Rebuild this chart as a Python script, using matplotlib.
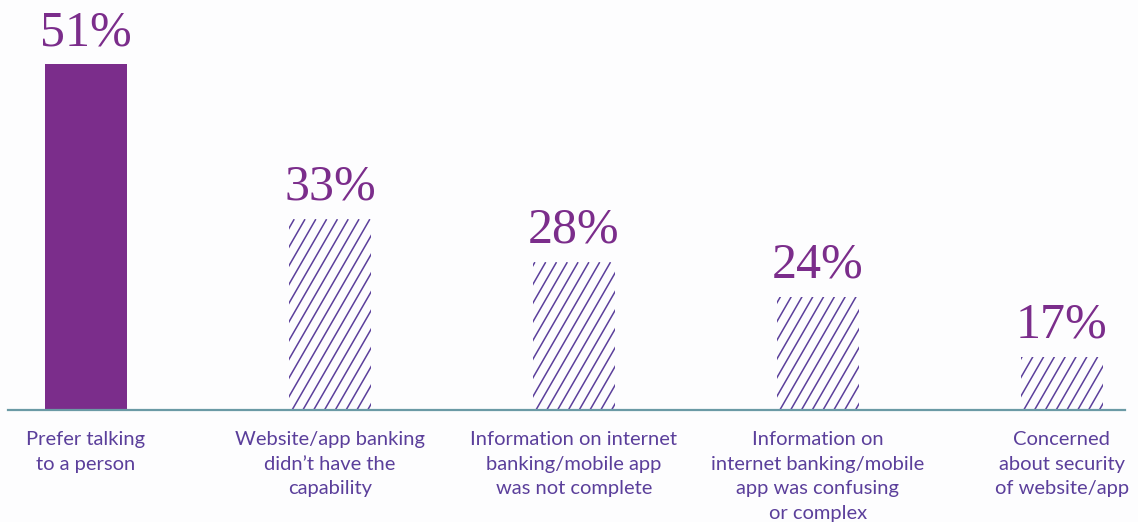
import numpy as np
import matplotlib.pyplot as plt

categories = ['Prefer talking\nto a person',
              'Website/app banking\ndidn\u2019t have the\ncapability',
              'Information on internet\nbanking/mobile app\nwas not complete',
              'Information on\ninternet banking/mobile\napp was confusing\nor complex',
              'Concerned\nabout security\nof website/app']
shares = [51, 33, 28, 24, 17]

purple = '#7b2d8b'
indigo = '#5b3f9b'
axis_col = '#6b9aa5'
bg = '#fdfdfe'

fig = plt.figure(figsize=(11.38, 5.22), dpi=100, facecolor=bg)
ax = fig.add_axes([8 / 1138, 112 / 522, 1117 / 1138, 410 / 522])
ax.set_facecolor(bg)

x = np.arange(len(shares))
colors = [purple] + ['none'] * (len(shares) - 1)
bars = ax.bar(x, shares, width=0.336, color=colors, linewidth=0)

ylo = 10.8
ax.set_ylim(ylo, 58.5)
ax.set_xlim(-0.32, 4.26)

for s in ['top', 'left', 'right']:
    ax.spines[s].set_visible(False)
ax.spines['bottom'].set_color(axis_col)
ax.spines['bottom'].set_linewidth(1.6)
ax.set_yticks([])
ax.set_xticks(x)
ax.set_xticklabels(categories, fontsize=14.5, family='Lato', color=indigo,
                   linespacing=1.55, va='top')
ax.tick_params(axis='x', length=0, pad=15)

# steep diagonal hatching for the secondary bars
inv = ax.transData.inverted()
step = 10.8
angle = np.radians(60)
for b in bars[1:]:
    x0, y0 = ax.transData.transform((b.get_x(), ylo))
    x1, y1 = ax.transData.transform((b.get_x() + b.get_width(), b.get_height()))
    run = (y1 - y0) / np.tan(angle)
    for xs in np.arange(x1 - step * 0.3, x0 - run - step, -step):
        pts = inv.transform([(xs, y0), (xs + run, y1)])
        line, = ax.plot(pts[:, 0], pts[:, 1], color=indigo, lw=1.1,
                        solid_capstyle='butt')
        line.set_clip_path(b)

for b, v in zip(bars, shares):
    ax.annotate(f'{v}%', (b.get_x() + b.get_width() / 2, v),
                xytext=(0, 14), textcoords='offset points',
                ha='center', va='baseline', fontsize=36,
                family='Liberation Serif', color=purple)

fig.savefig('out.png', dpi=100, facecolor=bg)
